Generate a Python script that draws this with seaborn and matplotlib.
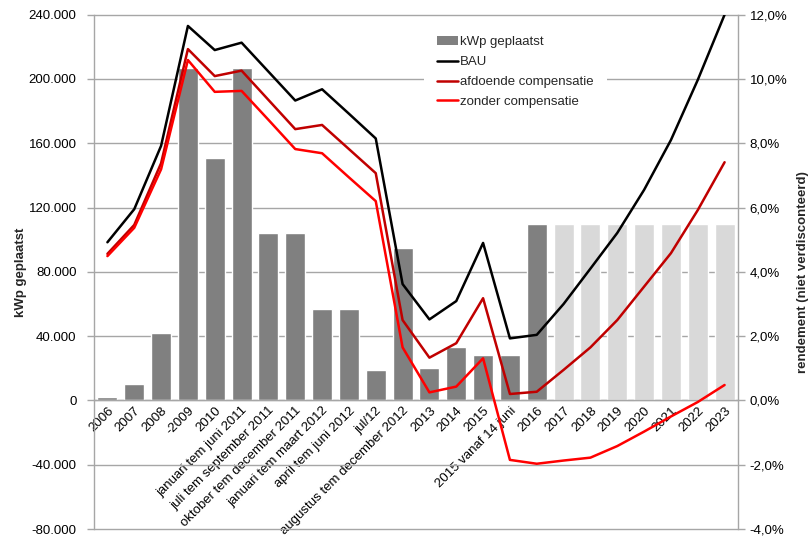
import numpy as np
import pandas as pd
import matplotlib
matplotlib.use("Agg")
import matplotlib.pyplot as plt
import seaborn as sns
from matplotlib.ticker import FuncFormatter, MultipleLocator
from matplotlib.patches import Patch
from matplotlib.lines import Line2D

# Periods on the category axis
categories = [
    "2006", "2007", "2008", "-2009", "2010",
    "januari tem juni 2011", "juli tem september 2011", "oktober tem december 2011",
    "januari tem maart 2012", "april tem juni 2012", "jul/12",
    "augustus tem december 2012", "2013", "2014", "2015",
    "2015 vanaf 14 juni", "2016", "2017", "2018", "2019", "2020",
    "2021", "2022", "2023",
]

# Installed capacity per period (kWp)
kwp = [2000, 10000, 42000, 207000, 151000,
       207000, 104000, 104000,
       57000, 57000, 19000,
       95000, 20000, 33000, 28000,
       28000, 110000, 110000, 110000, 110000, 110000,
       110000, 110000, 110000]

# Realised vs. projected periods
fase = ["gerealiseerd"] * 17 + ["prognose"] * 7

# Return (not discounted), percent
bau = [4.92, 5.95, 7.92, 11.65, 10.90,
       11.13, 10.23, 9.33,
       9.68, 8.92, 8.15,
       3.62, 2.52, 3.09, 4.90,
       1.93, 2.04, 3.00, 4.10, 5.21, 6.55,
       8.10, 9.97, 12.00]
afdoende = [4.56, 5.46, 7.38, 10.93, 10.09,
            10.26, 9.35, 8.44,
            8.57, 7.82, 7.07,
            2.50, 1.33, 1.78, 3.18,
            0.20, 0.27, 0.95, 1.65, 2.50, 3.54,
            4.58, 5.92, 7.41]
zonder = [4.49, 5.37, 7.19, 10.59, 9.60,
          9.63, 8.73, 7.82,
          7.69, 6.94, 6.20,
          1.65, 0.25, 0.43, 1.31,
          -1.85, -1.97, -1.87, -1.78, -1.42, -0.97,
          -0.50, -0.05, 0.48]

sns.set_theme(style="white")
plt.rcParams["font.family"] = ["Liberation Sans", "DejaVu Sans"]
plt.rcParams["font.size"] = 9.5

GRID = "#a6a6a6"
W, H = 812, 543
fig = plt.figure(figsize=(W / 100, H / 100), dpi=100)
ax = fig.add_axes([94 / W, 1 - 529 / H, (738 - 94) / W, (529 - 14.7) / H])

df = pd.DataFrame({"periode": categories, "kwp": kwp, "fase": fase})
sns.barplot(data=df, x="periode", y="kwp", hue="fase",
            palette={"gerealiseerd": "#808080", "prognose": "#d9d9d9"},
            dodge=False, width=0.75, saturation=1, legend=False, ax=ax, zorder=2)

ax2 = ax.twinx()
xpos = np.arange(len(categories))
sns.lineplot(x=xpos, y=bau, color="black", lw=1.8, ax=ax2)
sns.lineplot(x=xpos, y=afdoende, color="#c00000", lw=1.8, ax=ax2)
sns.lineplot(x=xpos, y=zonder, color="#ff0000", lw=1.8, ax=ax2)

# Left axis: kWp
ax.set_ylim(-80000, 240000)
ax.yaxis.set_major_locator(MultipleLocator(40000))
ax.yaxis.set_major_formatter(FuncFormatter(lambda v, p: f"{int(round(v)):,}".replace(",", ".")))
ax.grid(axis="y", color=GRID, lw=1)
ax.set_axisbelow(True)
ax.set_xlim(-0.5, len(categories) - 0.5)
ax.set_xticks(xpos, labels=categories)
ax.tick_params(axis="x", length=0, pad=3, labelsize=9.5, labelcolor="black",
               labelrotation=45)
ax.tick_params(axis="y", length=5, width=1, color=GRID, labelsize=9.5,
               labelcolor="black", left=True, pad=7.5)
ax.spines["bottom"].set_position(("data", 0))
for s in ["left", "bottom"]:
    ax.spines[s].set_color(GRID)
    ax.spines[s].set_linewidth(1)
ax.spines["top"].set_visible(False)
ax.spines["right"].set_visible(False)
ax.set_xlabel("")
ax.set_ylabel("kWp geplaatst", fontweight="bold", fontsize=9.5, labelpad=1)

# Right axis: return
ax2.set_ylim(-4, 12)
ax2.yaxis.set_major_locator(MultipleLocator(2))
ax2.yaxis.set_major_formatter(FuncFormatter(lambda v, p: f"{v:.1f}%".replace(".", ",")))
ax2.tick_params(axis="y", length=5, width=1, color=GRID, labelsize=9.5,
                labelcolor="black", right=True, pad=3.5)
ax2.grid(False)
for s in ["top", "left", "bottom"]:
    ax2.spines[s].set_visible(False)
ax2.spines["right"].set_color(GRID)
ax2.spines["right"].set_linewidth(1)
ax2.set_ylabel("rendement (niet verdisconteerd)", fontweight="bold", fontsize=9.5, labelpad=6.5)

handles = [
    Patch(facecolor="#808080", edgecolor="none", label="kWp geplaatst"),
    Line2D([], [], color="black", lw=1.8, label="BAU"),
    Line2D([], [], color="#c00000", lw=1.8, label="afdoende compensatie"),
    Line2D([], [], color="#ff0000", lw=1.8, label="zonder compensatie"),
]
leg = ax2.legend(handles=handles, loc="upper left",
                 bbox_to_anchor=(424 / W, 1 - 23 / H), bbox_transform=fig.transFigure,
                 frameon=True, fancybox=False, facecolor="white", edgecolor="none",
                 framealpha=1, fontsize=9.5, handlelength=1.6, handleheight=0.7,
                 handletextpad=0.15, labelspacing=0.58, borderpad=1.0,
                 borderaxespad=0)

fig.canvas.draw()
for lbl in ax.get_xticklabels():
    lbl.set_rotation(45)
    lbl.set_horizontalalignment("right")
    lbl.set_verticalalignment("top")
    lbl.set_rotation_mode("anchor")
# keep the outermost gridlines fully visible at the plot edges
for gl in ax.get_ygridlines():
    gl.set_clip_on(False)

fig.savefig("out.png", dpi=100)
